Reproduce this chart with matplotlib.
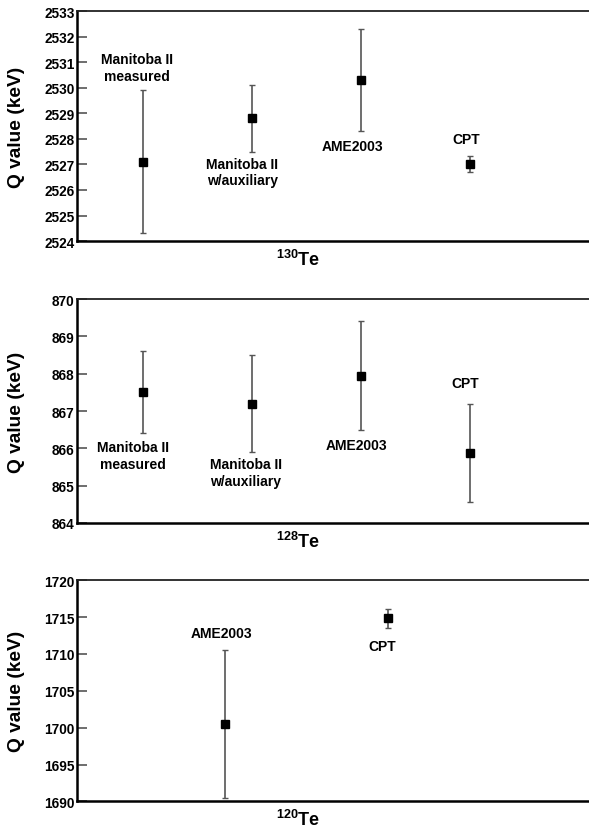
import matplotlib
matplotlib.use("Agg")
import matplotlib.pyplot as plt

plt.rcParams["font.family"] = ["Liberation Sans", "DejaVu Sans"]
plt.rcParams["font.weight"] = "bold"
plt.rcParams["mathtext.fontset"] = "custom"
plt.rcParams["mathtext.bf"] = "Liberation Sans:bold"
plt.rcParams["mathtext.rm"] = "Liberation Sans:bold"

# 130Te
te130_x = [1, 2, 3, 4]
te130_q = [2527.1, 2528.8, 2530.3, 2527.02]
te130_err = [2.8, 1.3, 2.0, 0.32]
te130_labels = ["Manitoba II\nmeasured", "Manitoba II\nw/auxiliary", "AME2003", "CPT"]
te130_label_x = [0.94, 1.91, 2.92, 3.96]
te130_label_y = [2530.8, 2526.7, 2527.7, 2528.0]
te130_ticks = [2524, 2525, 2526, 2527, 2528, 2529, 2530, 2531, 2532, 2533]

# 128Te
te128_x = [1, 2, 3, 4]
te128_q = [867.5, 867.2, 867.95, 865.87]
te128_err = [1.1, 1.3, 1.47, 1.31]
te128_labels = ["Manitoba II\nmeasured", "Manitoba II\nw/auxiliary", "AME2003", "CPT"]
te128_label_x = [0.91, 1.94, 2.96, 3.95]
te128_label_y = [865.8, 865.35, 866.1, 867.75]
te128_ticks = [864, 865, 866, 867, 868, 869, 870]

# 120Te
te120_x = [1.75, 3.25]
te120_q = [1700.5, 1714.8]
te120_err = [10.0, 1.3]
te120_labels = ["AME2003", "CPT"]
te120_label_x = [1.72, 3.19]
te120_label_y = [1712.85, 1711.05]
te120_ticks = [1690, 1695, 1700, 1705, 1710, 1715, 1720]


def draw_panel(fig, rect, x, q, err, labels, lx, ly, ticks, iso):
    ax = fig.add_axes(rect)
    ax.errorbar(x, q, yerr=err, fmt="none", ecolor="#555555", elinewidth=1.2,
                capsize=2, capthick=1.0)
    ax.plot(x, q, "s", color="black", markersize=6)
    for t, a, b in zip(labels, lx, ly):
        ax.text(a, b, t, ha="center", va="center", fontsize=10,
                fontweight="bold", linespacing=1.25)
    ax.set_xlim(0.394, 5.09)
    ax.set_ylim(ticks[0], ticks[-1])
    ax.set_yticks(ticks)
    ax.set_yticklabels([str(t) for t in ticks], fontsize=9.8, fontweight="bold")
    ax.set_xticks([])
    ax.tick_params(axis="y", direction="in", length=7, width=1.2,
                   color="#555555", pad=2)
    ax.spines["right"].set_visible(False)
    ax.spines["left"].set_linewidth(1.8)
    ax.spines["bottom"].set_linewidth(1.8)
    ax.spines["top"].set_linewidth(1.3)
    ax.spines["top"].set_color("#222222")
    ax.annotate(r"$\mathbf{^{" + iso + r"}Te}$", xy=(0.432, 0), xycoords="axes fraction",
                xytext=(0, -17), textcoords="offset points",
                ha="center", va="baseline", fontsize=13)
    return ax


fig = plt.figure(figsize=(5.89, 8.29), dpi=100)

panels = [
    ([0.131, 0.708, 0.869, 0.2775], te130_x, te130_q, te130_err, te130_labels,
     te130_label_x, te130_label_y, te130_ticks, "130"),
    ([0.131, 0.368, 0.869, 0.270], te128_x, te128_q, te128_err, te128_labels,
     te128_label_x, te128_label_y, te128_ticks, "128"),
    ([0.131, 0.032, 0.869, 0.267], te120_x, te120_q, te120_err, te120_labels,
     te120_label_x, te120_label_y, te120_ticks, "120"),
]

for p in panels:
    ax = draw_panel(fig, *p)
    r = p[0]
    fig.text(17 / 589, r[1] + r[3] / 2, "Q value (keV)", rotation=90,
             ha="center", va="center", fontsize=13.8, fontweight="bold")

fig.savefig("out.png", dpi=100)
